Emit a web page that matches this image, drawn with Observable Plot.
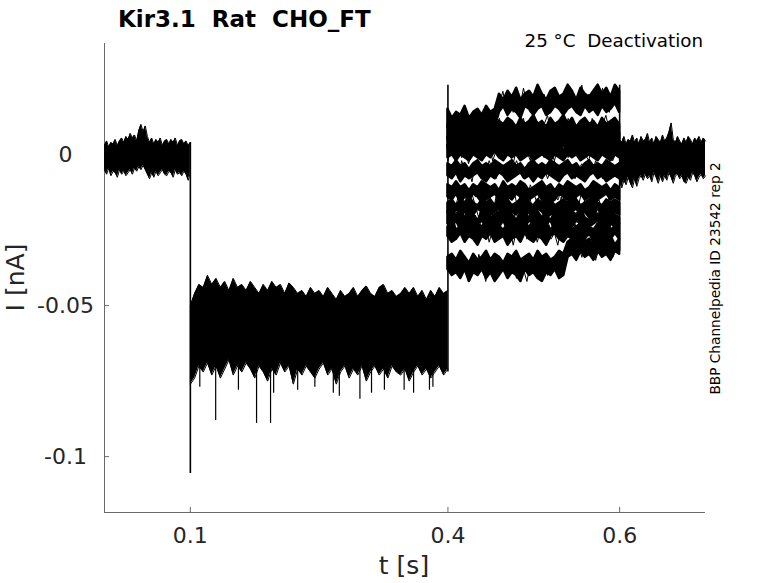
<!DOCTYPE html>
<html><head><meta charset="utf-8">
<script src="https://cdn.jsdelivr.net/npm/d3@7"></script>
<script src="https://cdn.jsdelivr.net/npm/@observablehq/plot@0.6"></script>
<style>body{margin:0;background:#fff} svg{font-family:"DejaVu Sans",sans-serif}</style>
</head><body><div id="chart"></div>
<script>
// ---- data (currents in pA, time in s) ----
const xTicks = [0.1, 0.4, 0.6];
const yTicks = [0, -0.05, -0.1];
const holdingDt = 0.0025;   // 0 .. 0.1 s
const holdingHi = [3,4.5,2.5,4,3.5,5,3,4.5,5.5,4, 6,5,7,5.5,6.5,4.5,8,10,7.5,9.5, 6,4,5.5,3.5,5,4,5.5,3,4.5,5, 3.5,5,4,5.5,3,4.5,5,3.5,4.5,3, 4];
const holdingLo = [-5,-6.5,-4.5,-7,-5.5,-6,-7.5,-5,-6.5,-5.5, -7,-6,-5,-6.5,-4.5,-5.5,-4,-5,-3.5,-5, -6.5,-8,-6,-7.5,-5.5,-7,-6,-5,-6.5,-7, -5.5,-6,-7.5,-5,-6.5,-6,-7,-5.5,-6.5,-8.5, -6];
const testDt = 0.005;       // 0.1 .. 0.4 s
const testHi = [-50,-46,-43,-44,-40,-43,-41,-44,-42,-45, -41,-44,-43,-45,-42,-44,-46,-43,-45,-42, -44,-43,-46,-42.5,-44,-46,-45,-47,-44,-46, -45,-47,-44,-46,-48,-45,-47,-46,-44,-47, -45,-43.5,-46,-47,-44,-43,-46,-45,-47,-46, -44,-46,-44,-47,-45,-48,-45,-47,-44,-46, -45];
const testLo = [-76,-74,-70,-72,-69,-73,-70,-74,-71,-68, -73,-70,-72,-69,-71,-74,-70,-72,-75,-71, -73,-69,-72,-70,-76,-71,-73,-70,-72,-74, -71,-69,-73,-71,-76,-72,-70,-74,-71,-73, -70,-75,-72,-70,-73,-71,-74,-70,-72,-73, -71,-75,-72,-70,-73,-71,-74,-72,-70,-73, -71];
const spikeT = [0.1295,0.1771,0.1934,0.156,0.197,0.225,0.2665,0.2735,0.2975,0.326,0.349,0.3785,0.3825,0.111,0.245,0.311,0.36];
const spikeV = [-88,-89,-89,-78,-79,-78,-79,-80,-81,-78,-78,-78,-77,-77,-77,-79,-79];
// tail (0.4 .. 0.6 s): one noisy trace per sweep ...
const tailDt = 0.004;
const tailSweeps = [
 [14,9,12,8,13,10,7,12,9,13, 8,11,14,9,12,17,21,15,19,14, 20,16,22,17,14,19,21,16,20,15, 18,22,17,14,20,18,21,15,19,23, 16,20,17,21,15,22,18,14,20,23, 17],
 [5,10,7,11,6,9,12,7,10,5, 9,11,8,6,10,12,7,9,11,6, 10,8,12,7,9,5,11,8,10,13, 7,9,6,11,8,12,9,6,10,8, 11,7,12,9,6,10,13,8,11,7, 9],
 [6,2,5,1,7,3,5,0,4,6, 2,5,3,7,1,4,6,2,5,3, 0,4,6,2,7,3,5,1,4,6, 2,5,3,7,4,1,5,3,6,2, 4,7,3,5,1,4,6,2,5,3, 4],
 [-2,3,0,4,-1,2,-3,1,3,-1, 2,0,4,-2,1,3,-1,2,0,-3, 2,4,0,1,-2,3,0,2,-1,4, 1,-2,2,0,3,-1,1,4,-1,2, 0,-2,3,1,-1,2,4,0,-2,1, 2],
 [-3,-7,-4,-8,-2,-6,-5,-9,-3,-6, -4,-7,-2,-5,-8,-4,-6,-3,-7,-5, -2,-6,-8,-4,-5,-7,-3,-6,-4,-8, -5,-2,-6,-7,-4,-3,-6,-8,-5,-3, -7,-4,-6,-2,-5,-8,-4,-6,-3,-7, -5],
 [-12,-16,-11,-14,-17,-12,-15,-10,-14,-13, -16,-11,-15,-13,-10,-15,-12,-17,-13,-11, -16,-14,-12,-15,-10,-13,-16,-12,-14,-17, -11,-13,-15,-12,-16,-10,-14,-13,-17,-12, -15,-11,-14,-16,-12,-13,-10,-15,-14,-12, -13],
 [-19,-15,-18,-14,-20,-16,-19,-13,-17,-21, -15,-18,-16,-20,-14,-17,-19,-15,-21,-16, -18,-14,-19,-17,-15,-20,-16,-13,-18,-21, -15,-17,-19,-14,-18,-16,-20,-15,-17,-19, -14,-18,-21,-16,-15,-19,-17,-14,-20,-16, -18],
 [-20,-24,-19,-23,-21,-25,-18,-22,-20,-24, -21,-19,-25,-22,-18,-23,-20,-24,-21,-18, -23,-25,-20,-22,-19,-24,-21,-23,-18,-22, -25,-20,-21,-24,-19,-22,-20,-25,-23,-19, -21,-24,-20,-22,-18,-23,-21,-25,-19,-22, -20],
 [-24,-28,-23,-27,-25,-29,-22,-26,-28,-24, -27,-23,-29,-25,-27,-22,-26,-28,-24,-30, -25,-27,-23,-28,-26,-24,-29,-25,-27,-23, -28,-26,-30,-24,-27,-25,-29,-23,-26,-28, -24,-27,-25,-29,-26,-23,-28,-25,-27,-24, -26],
 [-33,-38,-35,-40,-34,-37,-41,-35,-39,-33, -37,-42,-36,-38,-34,-40,-36,-39,-33,-37, -41,-35,-38,-42,-36,-34,-39,-37,-35,-40, -36,-38,-34,-37,-33,-31,-29,-33,-30,-34, -28,-32,-30,-35,-31,-29,-33,-30,-34,-31, -32]
];
// ... and the noise envelope of each sweep
const envDt = 0.005;
const tailHi = [
 [15,12,14,13,16,12,14,15,13,16, 14,15,20,18,21,19,22,18,20,21, 19,23,20,18,21,22,19,20,23,21, 18,22,20,19,21,23,20,22,19,23, 21],
 [10,11,9,12,10,11,9,12,11,10, 12,9,11,10,12,11,9,12,10,11, 13,10,11,9,12,10,11,13,10,12, 9,11,12,10,11,9,12,10,11,12, 10],
 [6,7,5,7,6,8,5,6,7,5, 6,8,6,5,7,6,5,7,8,6, 5,7,6,8,5,6,7,5,6,8, 7,5,6,7,5,8,6,7,5,6, 7],
 [3,2,4,2,3,1,3,4,2,3, 2,4,3,1,3,2,4,3,2,3, 1,4,2,3,3,2,4,1,3,2, 4,3,2,3,1,3,4,2,3,2, 3],
 [-3,-4,-2,-4,-3,-5,-3,-2,-4,-3, -4,-2,-3,-4,-3,-2,-4,-3,-5,-3, -2,-4,-3,-4,-2,-3,-4,-3,-2,-4, -3,-5,-3,-2,-4,-3,-4,-2,-3,-4, -3],
 [-10,-11,-9,-11,-10,-12,-10,-11,-9,-10, -11,-10,-12,-9,-11,-10,-11,-9,-10,-12, -11,-10,-9,-11,-10,-12,-10,-11,-9,-10, -11,-10,-12,-11,-9,-10,-11,-10,-12,-10, -11],
 [-16,-15,-17,-15,-16,-14,-16,-17,-15,-16, -15,-17,-14,-16,-15,-17,-16,-15,-14,-16, -17,-15,-16,-14,-15,-17,-16,-15,-16,-14, -15,-17,-16,-15,-14,-16,-17,-15,-16,-15, -16],
 [-19,-21,-20,-18,-21,-19,-20,-22,-19,-18, -21,-20,-19,-21,-18,-20,-22,-19,-20,-21, -18,-19,-21,-20,-22,-19,-18,-20,-21,-19, -20,-18,-21,-22,-19,-20,-19,-21,-18,-20, -21],
 [-24,-23,-25,-24,-22,-24,-25,-23,-24,-22, -25,-23,-24,-25,-23,-22,-24,-25,-23,-24, -22,-25,-24,-23,-25,-24,-22,-24,-23,-25, -24,-23,-22,-24,-25,-23,-24,-22,-25,-24, -23],
 [-34,-33,-35,-32,-34,-36,-33,-35,-34,-32, -35,-33,-34,-36,-33,-34,-32,-35,-34,-33, -35,-32,-34,-33,-35,-34,-32,-33,-29,-28, -30,-27,-29,-28,-30,-27,-28,-29,-27,-30, -28]
];
const tailLo = [
 [9,7,10,8,9,6,10,8,9,7, 10,9,14,16,13,15,14,12,16,15, 13,15,16,13,14,16,15,13,15,16, 14,13,16,14,15,13,16,14,15,17, 14],
 [5,6,4,6,5,3,6,5,4,6, 5,4,6,5,3,6,5,4,6,5, 4,6,5,3,5,6,4,5,6,4, 5,3,6,5,4,6,5,4,6,5, 5],
 [2,1,3,0,2,1,3,2,0,2, 1,3,2,1,0,2,3,1,2,0, 2,1,3,2,1,0,2,3,1,2, 1,3,0,2,1,2,3,1,0,2, 1],
 [-1,0,-2,0,-1,-2,0,-1,-2,0, -1,1,-1,-2,0,-1,0,-2,-1,0, -2,-1,0,-1,-2,0,-1,-2,0,-1, 0,-2,-1,0,-1,-2,0,-1,-2,0, -1],
 [-7,-8,-6,-9,-7,-8,-7,-6,-8,-9, -7,-8,-6,-7,-9,-8,-7,-6,-8,-7, -9,-7,-8,-6,-7,-8,-9,-7,-6,-8, -7,-8,-9,-7,-6,-8,-7,-9,-8,-7, -8],
 [-14,-15,-13,-16,-14,-15,-13,-14,-16,-15, -14,-13,-15,-16,-14,-15,-13,-14,-16,-15, -14,-13,-15,-14,-16,-15,-13,-14,-15,-16, -14,-13,-15,-14,-16,-15,-14,-13,-15,-14, -15],
 [-19,-21,-18,-20,-19,-21,-20,-18,-19,-21, -20,-19,-18,-20,-21,-19,-20,-18,-21,-19, -20,-18,-19,-21,-20,-19,-18,-20,-21,-19, -18,-20,-19,-21,-20,-18,-19,-20,-21,-19, -20],
 [-23,-24,-22,-25,-23,-24,-26,-23,-22,-24, -25,-23,-24,-22,-25,-24,-23,-26,-24,-22, -23,-25,-24,-23,-22,-25,-24,-23,-26,-24, -22,-23,-25,-24,-23,-22,-24,-26,-23,-24, -23],
 [-27,-29,-28,-26,-29,-27,-28,-30,-27,-28, -26,-29,-28,-27,-30,-28,-27,-29,-26,-28, -29,-27,-28,-30,-27,-26,-28,-29,-27,-28, -30,-27,-28,-26,-29,-28,-27,-29,-28,-26, -28],
 [-38,-40,-39,-41,-38,-42,-39,-40,-38,-41, -39,-42,-40,-38,-41,-39,-40,-42,-38,-40, -39,-41,-42,-39,-40,-38,-41,-40,-34,-33, -35,-32,-34,-33,-35,-32,-34,-33,-35,-32, -33]
];
const postDt = 0.0025;      // 0.6 .. 0.7 s
const postHi = [5,4,6,3.5,5,4.5,6.5,4,5.5,3.5, 6,4.5,5,7,4,5.5,3.5,6,5,4, 6.5,4.5,5.5,7.5,10.5,5,4,6,4.5,3.5, 5.5,4,6,5,3.5,5.5,4.5,6,4,5.5, 4.5];
const postLo = [-9,-11,-8.5,-10,-7.5,-9.5,-11,-8,-10.5,-8, -7,-8.5,-6.5,-8,-7,-9,-6,-7.5,-9.5,-7, -9,-7,-8.5,-6,-7.5,-9.5,-7,-6.5,-8,-7, -9,-9.5,-7.5,-8.5,-6,-7,-9,-7.5,-6.5,-8, -7];
const stepT  = [0.1, 0.4, 0.6];
const stepLo = [-105.6, -72, -32];
const stepHi = [4, 23, 23];

// ---- tables ----
const pA = v => v / 1000;
const band = (hi, lo, t0, dt) => hi.map((h, i) => ({t: t0 + i * dt, hi: pA(h), lo: pA(lo[i])}));
const holding = band(holdingHi, holdingLo, 0, holdingDt);
const test = band(testHi, testLo, 0.1, testDt);
const post = band(postHi, postLo, 0.6, postDt);
const tailEnv = tailHi.flatMap((hi, k) => band(hi, tailLo[k], 0.4, envDt).map(d => ({...d, sweep: k})));
const tail = tailSweeps.flatMap((s, k) => s.map((v, i) => ({sweep: k, t: 0.4 + i * tailDt, v: pA(v)})));
const spikes = spikeT.map((t, i) => ({t, v: pA(spikeV[i])}));
const steps = stepT.map((t, i) => ({t, lo: pA(stepLo[i]), hi: pA(stepHi[i])}));

const yDom = [-0.1185, 0.0368];
const bandMarks = rows => [
  Plot.areaY(rows, {x: "t", y1: "lo", y2: "hi", fill: "black"}),
  Plot.lineY(rows, {x: "t", y: "hi", stroke: "black", strokeWidth: 1}),
  Plot.lineY(rows, {x: "t", y: "lo", stroke: "black", strokeWidth: 1})
];

const chart = Plot.plot({
  width: 778, height: 583,
  marginLeft: 104, marginRight: 73, marginTop: 43, marginBottom: 71,
  x: {domain: [0, 0.7], label: null},
  y: {domain: yDom, label: null},
  style: {fontFamily: "DejaVu Sans", color: "#262626", background: "white", overflow: "visible"},
  marks: [
    Plot.ruleX([0], {stroke: "#6a6a6a", strokeWidth: 1}),
    Plot.ruleY([yDom[0]], {stroke: "#6a6a6a", strokeWidth: 1}),
    Plot.ruleX(xTicks, {x: d => d, y1: yDom[0], y2: yDom[0] + 0.0017, stroke: "#6a6a6a"}),
    Plot.ruleY(yTicks, {y: d => d, x1: 0, x2: 0.0058, stroke: "#6a6a6a"}),
    Plot.axisX(xTicks, {tickSize: 0, tickPadding: 15, fontSize: 22, tickFormat: d => String(d), label: null}),
    Plot.axisY(yTicks, {tickSize: 0, tickPadding: 39, textAnchor: "middle", fontSize: 22, tickFormat: d => String(d), label: null}),
    ...bandMarks(holding),
    ...bandMarks(test),
    ...bandMarks(post),
    Plot.ruleX(spikes, {x: "t", y1: pA(-68), y2: "v", stroke: "black", strokeWidth: 1.2}),
    Plot.areaY(tailEnv, {x: "t", y1: "lo", y2: "hi", z: "sweep", fill: "black", stroke: "black", strokeWidth: 2.5}),
    Plot.line(tail, {x: "t", y: "v", z: "sweep", stroke: "black", strokeWidth: 1}),
    Plot.ruleX(steps, {x: "t", y1: "lo", y2: "hi", stroke: "black", strokeWidth: 1.6})
  ]
});

const svg = d3.select(chart);
svg.append("text").attr("x", 118).attr("y", 27).attr("font-size", 23).attr("font-weight", "bold")
  .attr("text-anchor", "start").attr("fill", "#000").style("white-space", "pre").text("Kir3.1  Rat  CHO_FT");
svg.append("text").attr("x", 703).attr("y", 47).attr("font-size", 18.3).attr("text-anchor", "end")
  .attr("fill", "#000").style("white-space", "pre").text("25 °C  Deactivation");
svg.append("text").attr("transform", "translate(720,278.5) rotate(-90)").attr("font-size", 13.7)
  .attr("text-anchor", "middle").attr("fill", "#000").text("BBP Channelpedia ID 23542 rep 2");
svg.append("text").attr("transform", "translate(24,277.5) rotate(-90)").attr("font-size", 25)
  .attr("text-anchor", "middle").attr("fill", "#262626").text("I [nA]");
svg.append("text").attr("x", 404).attr("y", 574).attr("font-size", 25)
  .attr("text-anchor", "middle").attr("fill", "#262626").text("t [s]");

document.getElementById("chart").appendChild(chart);
</script>
</body></html>
